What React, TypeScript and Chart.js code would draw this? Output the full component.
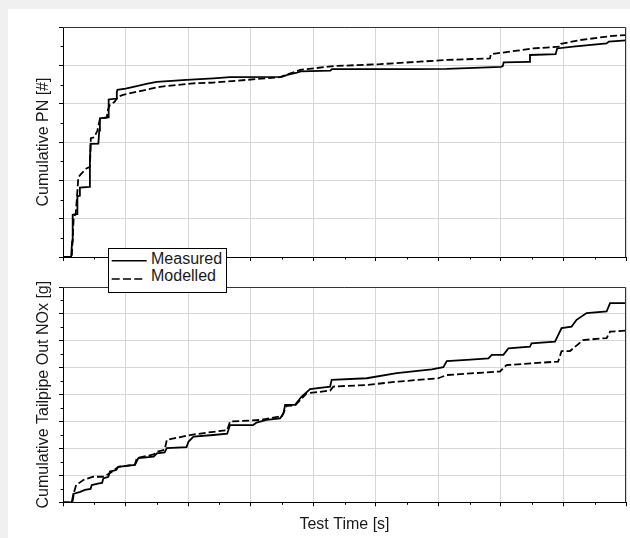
import React, { useEffect, useRef } from "react";
import { Chart, registerables } from "chart.js";

Chart.register(...registerables);

const FONT = '"Liberation Sans", Arial, Helvetica, sans-serif';

// Axis ranges (no tick labels are shown in the reference)
const timeMax = 1800;
const timeStep = 200;
const pnMax = 6;
const noxMax = 8;

// Cumulative PN (grid units)
const pnMeasuredTime = [0, 26, 29, 31, 45, 46, 53, 54, 84, 86, 88, 113, 116, 118, 144, 145, 147, 170, 172, 174, 200, 236, 270, 300, 395, 481, 534, 699, 720, 745, 760, 855, 860, 1110, 1227, 1400, 1406, 1409, 1490, 1493, 1575, 1580, 1631, 1738, 1745, 1800];
const pnMeasuredValue = [0, 0, 0.4, 1.1, 1.12, 1.57, 1.6, 1.81, 1.83, 2.5, 2.95, 2.96, 3.3, 3.62, 3.64, 3.9, 4.11, 4.13, 4.3, 4.36, 4.39, 4.46, 4.52, 4.57, 4.62, 4.66, 4.69, 4.7, 4.76, 4.8, 4.84, 4.86, 4.9, 4.9, 4.91, 4.96, 4.98, 5.08, 5.09, 5.27, 5.29, 5.44, 5.49, 5.57, 5.62, 5.65];

const pnModelledTime = [0, 28, 31, 34, 41, 45, 49, 56, 65, 75, 86, 88, 89, 100, 110, 118, 140, 144, 150, 165, 176, 192, 236, 310, 416, 480, 587, 694, 720, 745, 758, 864, 1013, 1109, 1227, 1365, 1368, 1503, 1589, 1592, 1653, 1759, 1800];
const pnModelledValue = [0, 0, 0.5, 1.0, 1.15, 1.6, 2.08, 2.15, 2.23, 2.31, 2.35, 2.8, 3.1, 3.12, 3.3, 3.6, 3.64, 3.85, 3.97, 4.05, 4.18, 4.23, 4.31, 4.44, 4.53, 4.55, 4.62, 4.69, 4.77, 4.84, 4.88, 4.98, 5.03, 5.08, 5.14, 5.18, 5.29, 5.44, 5.49, 5.56, 5.66, 5.77, 5.79];

// Cumulative tailpipe NOx (grid units)
const noxMeasuredTime = [0, 28, 33, 55, 70, 88, 92, 115, 125, 129, 145, 150, 170, 177, 230, 241, 290, 300, 325, 332, 395, 401, 417, 481, 525, 534, 608, 619, 651, 694, 705, 710, 742, 763, 790, 854, 859, 971, 1067, 1179, 1216, 1227, 1291, 1360, 1371, 1408, 1424, 1493, 1498, 1573, 1594, 1626, 1642, 1674, 1738, 1749, 1800];
const noxMeasuredValue = [0, 0, 0.31, 0.39, 0.46, 0.5, 0.64, 0.7, 0.72, 0.89, 0.95, 1.14, 1.2, 1.32, 1.39, 1.64, 1.7, 1.82, 1.85, 2.01, 2.05, 2.25, 2.44, 2.5, 2.55, 2.87, 2.87, 2.96, 3.06, 3.12, 3.3, 3.62, 3.62, 3.93, 4.21, 4.3, 4.55, 4.61, 4.8, 4.94, 5.02, 5.25, 5.29, 5.35, 5.48, 5.48, 5.72, 5.78, 5.91, 5.97, 6.47, 6.53, 6.78, 7.03, 7.09, 7.4, 7.4];

const noxModelledTime = [0, 30, 36, 42, 65, 97, 129, 150, 177, 230, 236, 290, 300, 325, 332, 406, 481, 525, 534, 630, 700, 715, 742, 779, 854, 864, 971, 1067, 1200, 1227, 1397, 1418, 1583, 1594, 1621, 1663, 1738, 1749, 1800];
const noxModelledValue = [0, 0, 0.4, 0.64, 0.83, 0.95, 0.95, 1.08, 1.32, 1.4, 1.64, 1.78, 1.88, 1.95, 2.32, 2.5, 2.62, 2.68, 3.0, 3.06, 3.2, 3.58, 3.6, 4.05, 4.15, 4.3, 4.36, 4.48, 4.61, 4.73, 4.86, 5.1, 5.23, 5.62, 5.62, 6.03, 6.1, 6.34, 6.38];

const seriesLabels = ["Measured", "Modelled"];

const GRID = "#d6d6d6";
const TEXT = "#1a1a1a";

const frameMinorPlugin = {
  id: "frameMinor",
  afterDraw(chart: any) {
    const { ctx, chartArea: a, scales } = chart;
    ctx.save();
    ctx.lineWidth = 1;
    // minor ticks
    ctx.strokeStyle = "#000";
    ctx.beginPath();
    const xs = scales.x;
    const xt = xs.ticks;
    for (let i = 0; i < xt.length - 1; i++) {
      const mid = (xt[i].value + xt[i + 1].value) / 2;
      const px = Math.round(xs.getPixelForValue(mid)) + 0.5;
      ctx.moveTo(px, a.bottom);
      ctx.lineTo(px, a.bottom + 2.5);
    }
    const ys = scales.y;
    const yt = ys.ticks;
    for (let i = 0; i < yt.length - 1; i++) {
      const mid = (yt[i].value + yt[i + 1].value) / 2;
      const py = Math.round(ys.getPixelForValue(mid)) + 0.5;
      ctx.moveTo(a.left - 2.5, py);
      ctx.lineTo(a.left, py);
    }
    ctx.stroke();
    // top and right frame
    ctx.strokeStyle = "#333";
    ctx.beginPath();
    const top = Math.round(a.top) + 0.5;
    const right = Math.round(a.right) - 0.5;
    ctx.moveTo(a.left, top);
    ctx.lineTo(right, top);
    ctx.lineTo(right, a.bottom);
    ctx.stroke();
    ctx.restore();
  },
};

function makeDataset(label: string, times: number[], values: number[], dashed: boolean) {
  return {
    label,
    data: times.map((t, i) => ({ x: t, y: values[i] })),
    borderColor: "#000",
    backgroundColor: "#000",
    borderWidth: 1.8,
    borderDash: dashed ? [7, 3] : [],
    pointRadius: 0,
    tension: 0,
    fill: false,
  };
}

function makeConfig(opts: {
  datasets: any[];
  yMax: number;
  yTitle: string;
  xTitle: string | null;
  padding: any;
}) {
  return {
    type: "line",
    data: { datasets: opts.datasets },
    options: {
      animation: false,
      responsive: true,
      maintainAspectRatio: false,
      events: [],
      layout: { autoPadding: false, padding: opts.padding },
      plugins: { legend: { display: false }, tooltip: { enabled: false } },
      scales: {
        x: {
          type: "linear",
          min: 0,
          max: timeMax,
          ticks: { display: false, stepSize: timeStep },
          grid: { color: GRID, lineWidth: 1, drawTicks: true, tickLength: 4, tickColor: "#000" },
          border: { display: true, color: "#000", width: 1 },
          title: opts.xTitle
            ? {
                display: true,
                text: opts.xTitle,
                color: TEXT,
                font: { family: FONT, size: 16 },
                padding: { top: 9, bottom: 2 },
              }
            : { display: false },
        },
        y: {
          type: "linear",
          min: 0,
          max: opts.yMax,
          ticks: { display: false, stepSize: 1 },
          grid: { color: GRID, lineWidth: 1, drawTicks: true, tickLength: 4, tickColor: "#000" },
          border: { display: true, color: "#000", width: 1 },
          title: {
            display: true,
            text: opts.yTitle,
            color: TEXT,
            font: { family: FONT, size: 16 },
            padding: { top: 4, bottom: 5.4 },
          },
        },
      },
    },
    plugins: [frameMinorPlugin],
  };
}

export default function App() {
  const topRef = useRef<HTMLCanvasElement | null>(null);
  const botRef = useRef<HTMLCanvasElement | null>(null);

  useEffect(() => {
    if (!topRef.current || !botRef.current) return;
    const top = new Chart(
      topRef.current,
      makeConfig({
        datasets: [
          makeDataset(seriesLabels[0], pnMeasuredTime, pnMeasuredValue, false),
          makeDataset(seriesLabels[1], pnModelledTime, pnModelledValue, true),
        ],
        yMax: pnMax,
        yTitle: "Cumulative PN [#]",
        xTitle: null,
        padding: { left: 22.4, top: 18, right: 4, bottom: 10 },
      }) as any
    );
    const bot = new Chart(
      botRef.current,
      makeConfig({
        datasets: [
          makeDataset(seriesLabels[0], noxMeasuredTime, noxMeasuredValue, false),
          makeDataset(seriesLabels[1], noxModelledTime, noxModelledValue, true),
        ],
        yMax: noxMax,
        yTitle: "Cumulative Tailpipe Out NOx [g]",
        xTitle: "Test Time [s]",
        padding: { left: 22.4, top: 16, right: 4, bottom: 1.5 },
      }) as any
    );
    return () => {
      top.destroy();
      bot.destroy();
    };
  }, []);

  const textStyle: React.CSSProperties = {
    position: "absolute",
    left: 42,
    fontFamily: FONT,
    fontSize: 16,
    lineHeight: "18px",
    color: TEXT,
    whiteSpace: "nowrap",
  };

  return (
    <div style={{ position: "fixed", left: 0, top: 0, width: 630, height: 538, background: "#f0f0f0", overflow: "hidden" }}>
      <div style={{ position: "absolute", left: 8, top: 9, width: 622, height: 529, background: "#ffffff" }} />
      <div style={{ position: "absolute", left: 8, top: 9, width: 622, height: 262 }}>
        <canvas ref={topRef} />
      </div>
      <div style={{ position: "absolute", left: 8, top: 271, width: 622, height: 267 }}>
        <canvas ref={botRef} />
      </div>
      <div
        style={{
          position: "absolute",
          left: 108,
          top: 248,
          width: 119,
          height: 45,
          boxSizing: "border-box",
          border: "1px solid #000",
          background: "#fff",
        }}
      >
        <svg width={117} height={43} style={{ position: "absolute", left: 0, top: 0 }}>
          <line x1={2.7} y1={11.7} x2={37.7} y2={11.7} stroke="#000" strokeWidth={1.5} />
          <line x1={2.7} y1={30} x2={35} y2={30} stroke="#000" strokeWidth={1.5} strokeDasharray="8 3.3" />
        </svg>
        <div style={{ ...textStyle, top: 0.5 }}>{seriesLabels[0]}</div>
        <div style={{ ...textStyle, top: 17.5 }}>{seriesLabels[1]}</div>
      </div>
    </div>
  );
}
